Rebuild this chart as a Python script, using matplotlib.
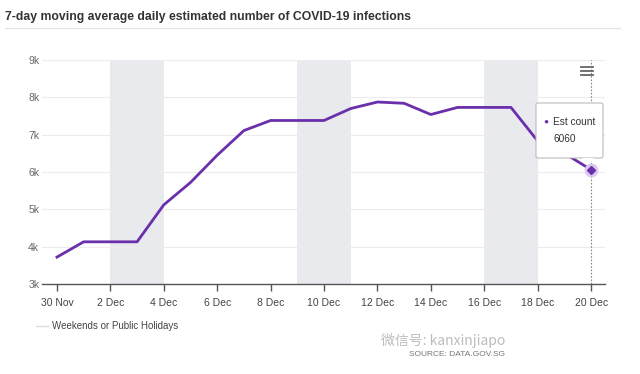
import matplotlib.pyplot as plt
from matplotlib.patches import FancyBboxPatch, Polygon

plt.rcParams['font.family'] = ['Liberation Sans', 'DejaVu Sans']

# data: 30 Nov -> 20 Dec
days = list(range(21))
est_count = [3720, 4130, 4130, 4130, 5120, 5720, 6450, 7110, 7380, 7380,
             7380, 7700, 7875, 7840, 7540, 7730, 7730, 7730, 6830, 6500, 6060]
tick_labels = ['30 Nov', '2 Dec', '4 Dec', '6 Dec', '8 Dec', '10 Dec',
               '12 Dec', '14 Dec', '16 Dec', '18 Dec', '20 Dec']
holidays = [(2, 3), (3, 4), (9, 10), (10, 11), (16, 17), (17, 18)]

purple = '#6a2fab'

fig = plt.figure(figsize=(6.4, 3.74), dpi=100)
ax = fig.add_axes([42 / 640, 1 - 284 / 374, 563 / 640, 224 / 374])

for a, b in holidays:
    ax.axvspan(a, b, color='#e9eaee', lw=0, zorder=0)

for v in range(4000, 9001, 1000):
    ax.axhline(v, color='#ececec', lw=0.8, zorder=1)

ax.plot(days, est_count, color=purple, lw=2, zorder=3, solid_joinstyle='round')

# crosshair + hovered point
ax.axvline(days[-1], color='#888888', lw=0.8, ls=(0, (1.5, 1.5)), zorder=2)
ax.plot(days[-1], est_count[-1], 'o', ms=9, color='#dccbef', zorder=4)
ax.plot(days[-1], est_count[-1], 'D', ms=4.5, color=purple, zorder=5)

ax.set_xlim(-0.56, 20.52)
ax.set_ylim(3000, 9000)
ax.set_xticks(days[::2])
ax.set_xticklabels(tick_labels)
ax.set_yticks(range(3000, 9001, 1000))
ax.set_yticklabels([f'{v // 1000}k' for v in range(3000, 9001, 1000)])
for s in ['top', 'right', 'left']:
    ax.spines[s].set_visible(False)
ax.spines['bottom'].set_color('#555555')
ax.spines['bottom'].set_linewidth(1)
ax.tick_params(axis='x', length=5, width=1, color='#555555', labelsize=7.5,
               labelcolor='#444444', pad=5)
ax.tick_params(axis='y', length=0, labelsize=7.5, labelcolor='#666666', pad=2)

# title
fig.text(5 / 640, 1 - 17 / 374, '7-day moving average daily estimated number of COVID-19 infections',
         fontsize=8.8, fontweight='bold', color='#333333', va='center')
fig.add_artist(plt.Line2D([5 / 640, 620 / 640], [1 - 28 / 374] * 2, color='#e3e3e3', lw=0.8))

# hamburger menu
for yy in [67, 71, 75]:
    fig.add_artist(plt.Line2D([581 / 640, 593 / 640], [1 - yy / 374] * 2, color='#666666', lw=1.3))

# tooltip
tip = FancyBboxPatch((536 / 640, 1 - 158 / 374), 67 / 640, 55 / 374,
                     boxstyle='round,pad=0,rounding_size=0.004', transform=fig.transFigure,
                     fc='white', ec='#bbbbbb', lw=0.8, zorder=10)
fig.add_artist(tip)
fig.add_artist(Polygon([(582 / 640, 1 - 158 / 374), (594 / 640, 1 - 158 / 374), (590 / 640, 1 - 164 / 374)],
                       closed=True, transform=fig.transFigure, fc='white', ec='none', zorder=11))
fig.text(543 / 640, 1 - 122 / 374, '●', fontsize=6, color=purple, va='center', zorder=12)
fig.text(553 / 640, 1 - 122 / 374, 'Est count', fontsize=7.3, color='#333333', va='center', zorder=12)
fig.text(553 / 640, 1 - 139 / 374, '6060', fontsize=7.3, color='#333333', va='center', zorder=12)

# legend
fig.add_artist(plt.Line2D([36 / 640, 48 / 640], [1 - 326 / 374] * 2, color='#dddddd', lw=1))
fig.text(52 / 640, 1 - 326 / 374, 'Weekends or Public Holidays', fontsize=7, color='#444444', va='center')

# watermark / source
fig.text(505 / 640, 1 - 340 / 374, '微信号: kanxinjiapo', fontsize=10, color='#bdbdbd', ha='right', va='center',
         family=['Noto Sans CJK SC', 'DejaVu Sans'])
fig.text(505 / 640, 1 - 355 / 374, 'SOURCE: DATA.GOV.SG', fontsize=6, color='#777777', ha='right', va='center')

fig.savefig('out.png', dpi=100)
